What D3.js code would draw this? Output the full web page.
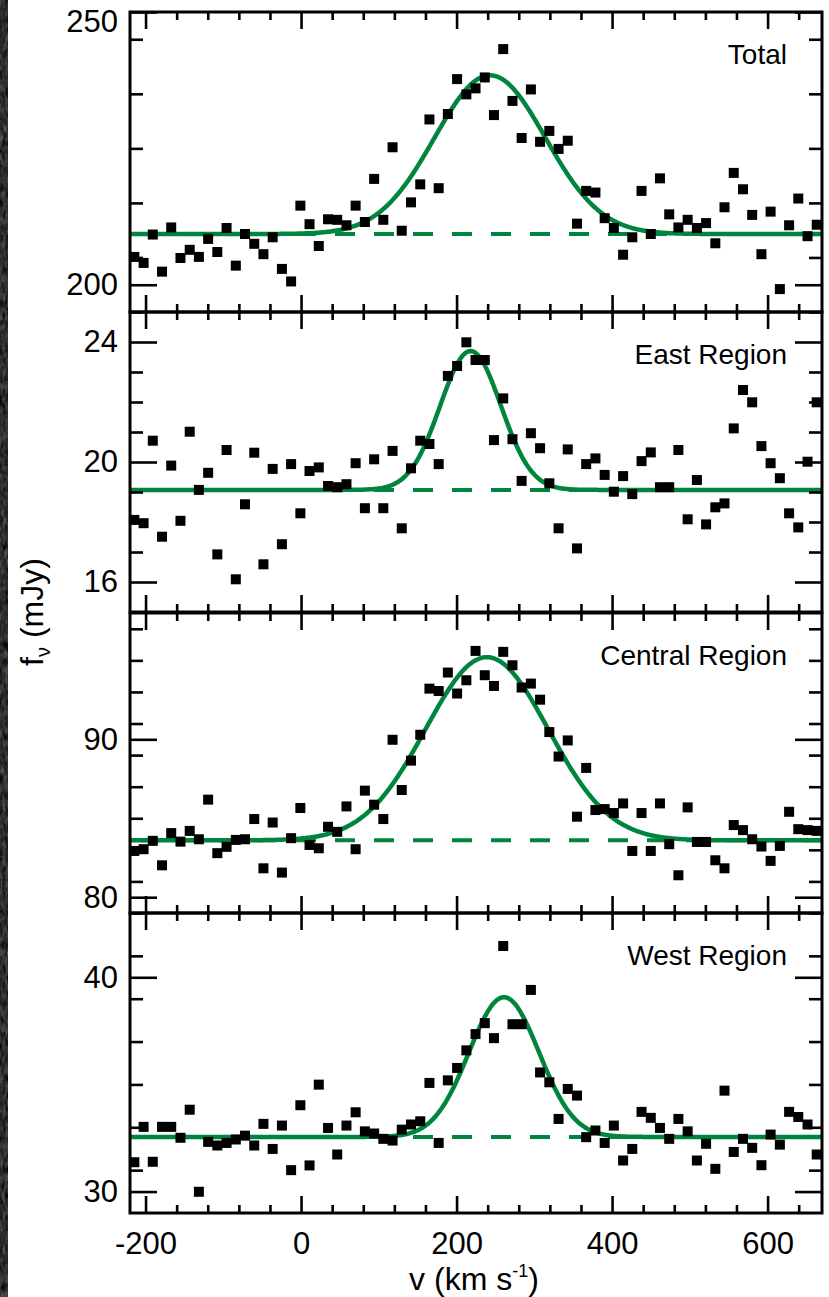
<!DOCTYPE html>
<html>
<head>
<meta charset="utf-8">
<script src="https://cdn.jsdelivr.net/npm/d3@7"></script>
<style>
  body { margin: 0; background: #fff; }
  svg { display: block; font-family: "Liberation Sans", Arial, Helvetica, sans-serif; }
</style>
</head>
<body>
<svg id="chart" width="829" height="1297"></svg>
<script>
/* velocity channels (km/s), shared by all four spectra */
const velocity = [-214.4, -202.5, -190.7, -178.8, -167.0, -155.1, -143.2, -131.4, -119.5, -107.7,
  -95.8, -83.9, -72.1, -60.2, -48.4, -36.5, -24.6, -12.8, -0.9, 10.9,
  22.8, 34.7, 46.5, 58.4, 70.2, 82.1, 94.0, 105.8, 117.7, 129.5,
  141.4, 153.3, 165.1, 177.0, 188.8, 200.7, 212.6, 224.4, 236.3, 248.1,
  260.0, 271.9, 283.7, 295.6, 307.4, 319.3, 331.2, 343.0, 354.9, 366.7,
  378.6, 390.5, 402.3, 414.2, 426.0, 437.9, 449.8, 461.6, 473.5, 485.3,
  497.2, 509.1, 520.9, 532.8, 544.6, 556.5, 568.4, 580.2, 592.1, 603.9,
  615.8, 627.7, 639.5, 651.4, 663.2];

/* flux density per channel (mJy) */
const fluxTotal = [205.1, 204.0, 209.2, 202.4, 210.5, 204.9, 206.4, 205.1, 208.4, 206.0,
  210.4, 203.5, 209.3, 207.5, 205.6, 208.7, 202.9, 200.6, 214.5, 211.1,
  207.1, 212.0, 211.9, 210.9, 214.5, 211.5, 219.4, 211.9, 225.2, 209.9,
  215.1, 218.4, 230.3, 217.7, 231.3, 237.7, 234.9, 236.0, 238.0, 231.1,
  243.2, 233.7, 226.9, 235.8, 226.2, 228.2, 224.9, 226.4, 211.2, 217.2,
  216.9, 212.2, 210.4, 205.5, 208.7, 217.2, 209.3, 219.5, 212.9, 210.5,
  211.9, 210.4, 211.3, 207.6, 214.2, 220.5, 217.5, 212.8, 205.6, 213.4,
  199.2, 210.9, 215.8, 208.9, 211.0];

const fluxEast = [18.07, 17.96, 20.71, 17.51, 19.88, 18.04, 21.01, 19.07, 19.64, 16.92,
  20.40, 16.09, 18.59, 20.31, 16.59, 19.77, 17.26, 19.93, 18.29, 19.70,
  19.82, 19.20, 19.16, 19.26, 19.96, 18.46, 20.09, 18.46, 20.37, 17.79,
  19.79, 20.71, 20.60, 19.93, 22.87, 23.20, 23.99, 23.40, 23.40, 20.73,
  22.12, 20.76, 19.37, 20.96, 20.46, 19.29, 17.79, 20.42, 17.12, 19.93,
  20.12, 19.57, 19.01, 19.53, 18.93, 20.03, 20.32, 19.16, 19.16, 20.40,
  18.09, 19.40, 17.92, 18.49, 18.62, 21.12, 22.40, 21.99, 20.53, 19.96,
  19.46, 18.29, 17.82, 20.01, 21.99];

const fluxCentral = [82.93, 83.04, 83.57, 82.02, 84.06, 83.52, 84.20, 83.67, 86.18, 82.79,
  83.19, 83.63, 83.67, 84.95, 81.83, 84.73, 81.56, 83.74, 85.65, 83.31,
  83.10, 84.46, 84.14, 85.75, 83.04, 86.75, 85.86, 84.95, 89.97, 86.79,
  88.65, 90.29, 93.21, 93.06, 94.23, 92.90, 93.74, 95.60, 94.06, 93.38,
  95.54, 94.69, 93.28, 93.53, 92.51, 90.46, 88.91, 89.93, 85.10, 88.19,
  85.52, 85.58, 85.33, 85.94, 82.93, 85.33, 82.93, 85.94, 83.36, 81.39,
  85.69, 83.50, 83.50, 82.34, 81.83, 84.57, 84.25, 83.67, 83.21, 82.30,
  83.25, 85.41, 84.31, 84.25, 84.20];

const fluxWest = [31.37, 33.02, 31.39, 33.02, 33.02, 32.51, 33.82, 29.99, 32.32, 32.15,
  32.27, 32.43, 32.61, 32.15, 33.16, 31.99, 33.08, 31.00, 34.03, 31.22,
  34.99, 32.97, 31.73, 33.08, 33.70, 32.81, 32.71, 32.46, 32.38, 32.89,
  33.13, 33.28, 35.07, 32.27, 35.19, 35.77, 36.59, 37.35, 37.86, 37.16,
  41.46, 37.81, 37.81, 39.41, 35.56, 35.10, 33.39, 34.79, 34.48, 32.54,
  32.85, 32.27, 33.08, 31.45, 31.99, 33.72, 33.44, 32.97, 32.46, 33.39,
  32.81, 31.45, 32.23, 31.06, 34.71, 31.85, 32.46, 32.04, 31.23, 32.66,
  32.19, 33.72, 33.48, 33.13, 31.73];

/* panel titles, y ranges and tick values */
const panelNames = ['Total', 'East Region', 'Central Region', 'West Region'];
const yDomains = [[195, 250], [15, 25], [79, 98], [29, 43]];
const yMajorTicks = [[200, 250], [16, 20, 24], [80, 90], [30, 40]];
const yMinorStep = [10, 1, 2, 2];
const xMajorTicks = [-200, 0, 200, 400, 600];

/* gaussian fits: continuum, peak above continuum, centre, fwhm */
const fitContinuum = [209.3, 19.07, 83.6, 32.55];
const fitPeak = [29.1, 4.63, 11.6, 6.52];
const fitCenter = [243, 218, 239, 261];
const fitFwhm = [168, 92, 186, 106];

const fluxes = [fluxTotal, fluxEast, fluxCentral, fluxWest];

const svg = d3.select('#chart');
const green = '#00853e';
const left = 130, right = 822;
const panelTops = [12, 312, 613, 913];
const panelH = 300;

// dark grainy strip on the far left
const defs = svg.append('defs');
const grain = defs.append('filter').attr('id', 'grain')
  .attr('color-interpolation-filters', 'sRGB')
  .attr('x', 0).attr('y', 0).attr('width', '100%').attr('height', '100%');
grain.append('feTurbulence').attr('type', 'fractalNoise')
  .attr('baseFrequency', '0.35 0.12').attr('numOctaves', 3).attr('seed', 4).attr('result', 'n');
grain.append('feColorMatrix').attr('in', 'n').attr('type', 'matrix')
  .attr('values', '0.25 0.25 0.25 0 -0.2  0.25 0.25 0.25 0 -0.2  0.25 0.25 0.25 0 -0.2  0 0 0 0 1')
  .attr('result', 'g');
grain.append('feComposite').attr('in', 'g').attr('in2', 'SourceGraphic').attr('operator', 'in');
svg.append('rect').attr('x', 0).attr('y', 0).attr('width', 8).attr('height', 1297)
  .attr('fill', '#222').attr('filter', 'url(#grain)');

const x = d3.scaleLinear().domain([-220, 670]).range([left, right]);
const xMinor = d3.range(-200, 670, 40).filter(v => !xMajorTicks.includes(v));

defs.append('clipPath').attr('id', 'plotclip')
  .append('rect').attr('x', left).attr('y', 0).attr('width', right - left).attr('height', panelH);

panelNames.forEach((name, i) => {
  const top = panelTops[i];
  const g = svg.append('g').attr('transform', `translate(0,${top})`);
  const y = d3.scaleLinear().domain(yDomains[i]).range([panelH, 0]);
  const yMinor = d3.range(yDomains[i][0], yDomains[i][1] + 0.001, yMinorStep[i])
    .filter(v => !yMajorTicks[i].includes(v) && v > yDomains[i][0]);

  // continuum (dashed) and gaussian fit (solid)
  const plot = g.append('g').attr('clip-path', 'url(#plotclip)');
  plot.append('line')
    .attr('x1', left).attr('x2', right)
    .attr('y1', y(fitContinuum[i])).attr('y2', y(fitContinuum[i]))
    .attr('stroke', green).attr('stroke-width', 4)
    .attr('stroke-dasharray', '20,19').attr('stroke-dashoffset', 29);
  const model = v => fitContinuum[i] + fitPeak[i] *
    Math.exp(-4 * Math.LN2 * Math.pow(v - fitCenter[i], 2) / Math.pow(fitFwhm[i], 2));
  const curveV = d3.range(-220, 672, 2);
  plot.append('path')
    .datum(curveV)
    .attr('d', d3.line().x(v => x(v)).y(v => y(model(v))))
    .attr('fill', 'none').attr('stroke', green).attr('stroke-width', 4.5);

  // data points
  plot.selectAll('rect.pt')
    .data(velocity.map((v, k) => [v, fluxes[i][k]]))
    .enter().append('rect')
    .attr('class', 'pt')
    .attr('x', d => x(d[0]) - 5).attr('y', d => y(d[1]) - 5)
    .attr('width', 10).attr('height', 10)
    .attr('fill', '#000');

  // axes: ticks point inward on all four sides
  const styleAxis = sel => {
    sel.select('.domain').remove();
    sel.selectAll('line').attr('stroke', '#000').attr('stroke-width', 2.6);
    sel.selectAll('text').attr('fill', '#000').attr('font-size', 31);
  };
  g.append('g').attr('transform', `translate(${left},0)`)
    .call(d3.axisLeft(y).tickValues(yMajorTicks[i]).tickSize(-27).tickPadding(12).tickFormat(d3.format('d')))
    .call(styleAxis)
    .call(s => s.selectAll('text').attr('y', d => Math.max(y(d), 10) - y(d)));
  g.append('g').attr('transform', `translate(${left},0)`)
    .call(d3.axisLeft(y).tickValues(yMinor).tickSize(-13).tickFormat(''))
    .call(styleAxis);
  g.append('g').attr('transform', `translate(${right},0)`)
    .call(d3.axisRight(y).tickValues(yMajorTicks[i]).tickSize(-27).tickFormat(''))
    .call(styleAxis);
  g.append('g').attr('transform', `translate(${right},0)`)
    .call(d3.axisRight(y).tickValues(yMinor).tickSize(-13).tickFormat(''))
    .call(styleAxis);

  g.append('g')
    .call(d3.axisTop(x).tickValues(xMajorTicks).tickSize(-17).tickFormat(''))
    .call(styleAxis);
  g.append('g')
    .call(d3.axisTop(x).tickValues(xMinor).tickSize(-8).tickFormat(''))
    .call(styleAxis);
  const bottom = g.append('g').attr('transform', `translate(0,${panelH})`)
    .call(d3.axisBottom(x).tickValues(xMajorTicks).tickSize(-17).tickPadding(19)
      .tickFormat(i === 3 ? d3.format('d') : ''))
    .call(styleAxis);
  bottom.selectAll('text').text(d => (i === 3 ? String(d) : ''));
  g.append('g').attr('transform', `translate(0,${panelH})`)
    .call(d3.axisBottom(x).tickValues(xMinor).tickSize(-8).tickFormat(''))
    .call(styleAxis);

  // frame
  g.append('rect').attr('x', left).attr('y', 0)
    .attr('width', right - left).attr('height', panelH)
    .attr('fill', 'none').attr('stroke', '#000').attr('stroke-width', 3);

  g.append('text')
    .attr('x', 787).attr('y', 52)
    .attr('text-anchor', 'end').attr('font-size', 28)
    .text(name);
});

// axis titles
const xt = svg.append('text')
  .attr('x', 474).attr('y', 1290)
  .attr('text-anchor', 'middle').attr('font-size', 32);
xt.append('tspan').text('v (km s');
xt.append('tspan').attr('font-size', 18).attr('dy', -13).text('-1');
xt.append('tspan').attr('dy', 13).text(')');

const yt = svg.append('text')
  .attr('transform', 'translate(43,612) rotate(-90)')
  .attr('text-anchor', 'middle').attr('font-size', 32);
yt.append('tspan').text('f');
yt.append('tspan').attr('font-size', 20).attr('dy', 7).text('ν');
yt.append('tspan').attr('dy', -7).text(' (mJy)');
</script>
</body>
</html>
